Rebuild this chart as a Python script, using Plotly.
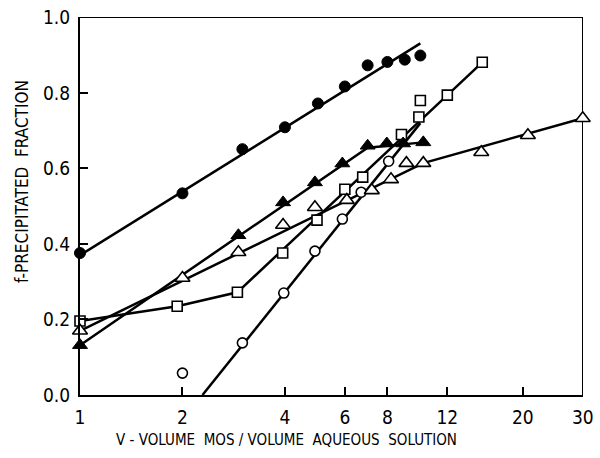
import math
import plotly.graph_objects as go

# ---- data ----
fc_x = [1, 2, 3, 4, 5, 6, 7, 8, 9, 10]                      # filled circles
fc_y = [0.376, 0.534, 0.651, 0.709, 0.772, 0.817, 0.873, 0.882, 0.888, 0.899]
fc_line_x = [1, 10]
fc_line_y = [0.37, 0.931]

ft_x = [1, 2.92, 3.95, 4.9, 5.9, 7.0, 7.97, 8.9, 10.2]      # filled triangles
ft_y = [0.132, 0.423, 0.51, 0.563, 0.613, 0.66, 0.666, 0.666, 0.669]
ft_line_x = [1, 7.0, 10.2]
ft_line_y = [0.132, 0.655, 0.669]

ot_x = [1, 2, 2.92, 3.95, 4.9, 6.08, 7.2, 8.2, 9.1, 10.2, 15.1, 20.7, 30]   # open triangles
ot_y = [0.17, 0.31, 0.378, 0.45, 0.497, 0.516, 0.542, 0.571, 0.614, 0.614, 0.643, 0.688, 0.733]
ot_line_x = [1, 10.2, 30]
ot_line_y = [0.17, 0.614, 0.733]

sq_x = [1, 1.93, 2.9, 3.94, 4.97, 6.0, 6.77, 8.8, 9.9, 10.0, 12.0, 15.2]  # open squares
sq_y = [0.196, 0.235, 0.272, 0.376, 0.463, 0.545, 0.577, 0.69, 0.736, 0.78, 0.794, 0.881]
sq_line_x = [1, 1.93, 2.9, 15.2]
sq_line_y = [0.196, 0.235, 0.272, 0.881]

oc_x = [2, 3, 3.97, 4.9, 5.9, 6.7, 8.07]                     # open circles
oc_y = [0.058, 0.138, 0.27, 0.381, 0.466, 0.537, 0.619]
oc_line_x = [2.29, 10]
oc_line_y = [0.0, 0.72]

x_ticks = [1, 2, 4, 6, 8, 12, 20, 30]
x_tick_text = ["1", "2", "4", "6", "8", "12", "20", "30"]
y_ticks = [0.0, 0.2, 0.4, 0.6, 0.8, 1.0]
y_tick_text = ["0.0", "0.2", "0.4", "0.6", "0.8", "1.0"]

X_MIN, X_MAX = 1, 30.05
Y_MIN, Y_MAX = 0, 1.001

FONT = "DejaVu Sans Condensed, Liberation Sans Narrow, DejaVu Sans"

fig = go.Figure()

# top and right edges of the plot frame, drawn from the axis limits
fig.add_trace(go.Scatter(x=[X_MIN, X_MAX, X_MAX], y=[Y_MAX, Y_MAX, Y_MIN], mode="lines",
                         line=dict(color="black", width=2), hoverinfo="skip",
                         showlegend=False, cliponaxis=False))

line_style = dict(color="black", width=2.5)
for lx, ly in [(fc_line_x, fc_line_y), (ft_line_x, ft_line_y), (ot_line_x, ot_line_y),
               (sq_line_x, sq_line_y), (oc_line_x, oc_line_y)]:
    fig.add_trace(go.Scatter(x=lx, y=ly, mode="lines", line=line_style,
                             hoverinfo="skip", showlegend=False, cliponaxis=False))

open_line = dict(color="black", width=1.6)
fig.add_trace(go.Scatter(x=oc_x, y=oc_y, mode="markers", showlegend=False, cliponaxis=False,
                         marker=dict(symbol="circle", size=10, color="white", line=open_line)))
fig.add_trace(go.Scatter(x=sq_x, y=sq_y, mode="markers", showlegend=False, cliponaxis=False,
                         marker=dict(symbol="square", size=10, color="white", line=open_line)))
fig.add_trace(go.Scatter(x=ot_x, y=ot_y, mode="markers", showlegend=False, cliponaxis=False,
                         marker=dict(symbol="triangle-up", size=13, color="white", line=open_line)))
fig.add_trace(go.Scatter(x=ft_x, y=ft_y, mode="markers", showlegend=False, cliponaxis=False,
                         marker=dict(symbol="triangle-up", size=13, color="black",
                                     line=dict(color="black", width=1))))
fig.add_trace(go.Scatter(x=fc_x, y=fc_y, mode="markers", showlegend=False, cliponaxis=False,
                         marker=dict(symbol="circle", size=11, color="black",
                                     line=dict(color="black", width=1))))

fig.update_layout(
    width=600, height=458,
    margin=dict(l=80, r=17, t=17, b=63),
    paper_bgcolor="white", plot_bgcolor="white",
    font=dict(family=FONT, color="black", size=18),
    xaxis=dict(type="log", range=[math.log10(X_MIN), math.log10(X_MAX)],
               tickvals=x_ticks, ticktext=x_tick_text,
               ticks="inside", ticklen=8, tickwidth=2, tickcolor="black",
               showline=True, linecolor="black", linewidth=2, mirror=False,
               showgrid=False, zeroline=False, ticklabelstandoff=4, automargin=False,
               tickfont=dict(family=FONT, size=19, color="black")),
    yaxis=dict(range=[Y_MIN, Y_MAX], tickvals=y_ticks, ticktext=y_tick_text,
               ticks="inside", ticklen=8, tickwidth=2, tickcolor="black",
               showline=True, linecolor="black", linewidth=2, mirror=False,
               showgrid=False, zeroline=False, ticklabelstandoff=4, automargin=False,
               tickfont=dict(family=FONT, size=19, color="black")),
    annotations=[
        dict(text="V - VOLUME  MOS / VOLUME  AQUEOUS  SOLUTION", xref="paper", yref="paper",
             x=0.4115, y=-0.119, showarrow=False, xanchor="center", yanchor="middle",
             font=dict(family=FONT, size=15, color="black")),
        dict(text="f-PRECIPITATED  FRACTION", xref="paper", yref="paper",
             x=-0.1153, y=0.5635, showarrow=False, textangle=-90,
             xanchor="center", yanchor="middle",
             font=dict(family=FONT, size=17, color="black")),
    ],
)

fig.write_html("out.html", config={"displayModeBar": False},
               post_script="document.body.style.margin='0';")
